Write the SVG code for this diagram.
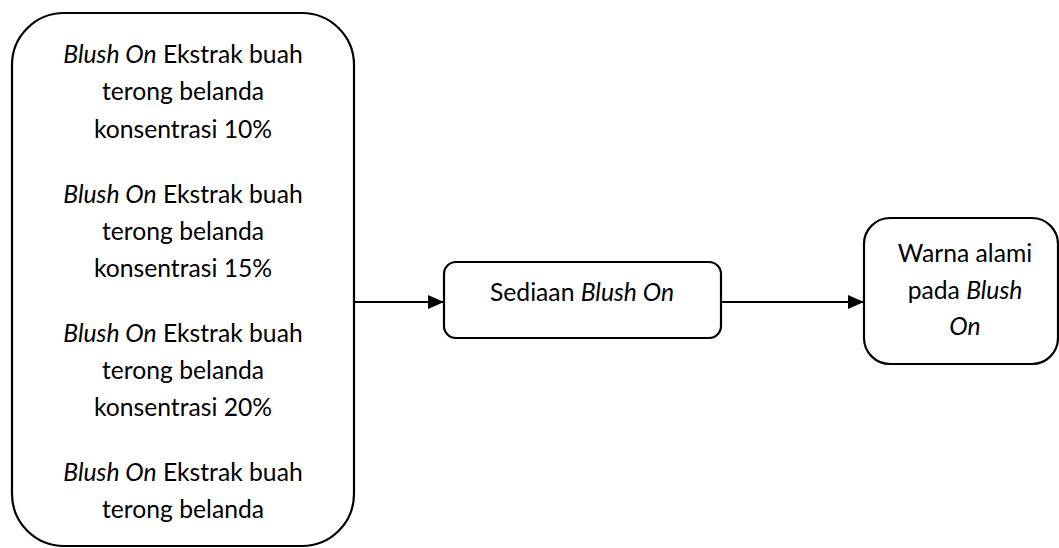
<svg xmlns="http://www.w3.org/2000/svg" width="1059" height="548" viewBox="0 0 1059 548">
<style>
.box{fill:#fff;stroke:#000;stroke-width:2.2}
.t{font-family:Lato,"Open Sans","Liberation Sans",sans-serif;font-size:24.7px;fill:#000;text-anchor:middle}
.i{font-style:italic}
.c{stroke:#000;stroke-width:2.2;fill:none}
</style>
<defs>
<marker id="arr" viewBox="0 0 16 14" refX="16" refY="7" markerWidth="16" markerHeight="14" markerUnits="userSpaceOnUse" orient="auto">
<path d="M0,0 L16,7 L0,14 Z" fill="#000"/>
</marker>
</defs>
<rect width="1059" height="548" fill="#fff"/>
<g id="connectors">
<line class="c" x1="354" y1="302" x2="444" y2="302" marker-end="url(#arr)"/>
<line class="c" x1="721" y1="302" x2="864" y2="302" marker-end="url(#arr)"/>
</g>
<g id="node-samples">
<rect class="box" x="12" y="13" width="342" height="533" rx="52" ry="52"/>
<text class="t" x="183" y="63"><tspan class="i">Blush On</tspan> Ekstrak buah</text>
<text class="t" x="183" y="100">terong belanda</text>
<text class="t" x="183" y="138">konsentrasi 10%</text>
<text class="t" x="183" y="203"><tspan class="i">Blush On</tspan> Ekstrak buah</text>
<text class="t" x="183" y="240">terong belanda</text>
<text class="t" x="183" y="277">konsentrasi 15%</text>
<text class="t" x="183" y="342"><tspan class="i">Blush On</tspan> Ekstrak buah</text>
<text class="t" x="183" y="379">terong belanda</text>
<text class="t" x="183" y="416">konsentrasi 20%</text>
<text class="t" x="183" y="481"><tspan class="i">Blush On</tspan> Ekstrak buah</text>
<text class="t" x="183" y="518">terong belanda</text>
</g>
<g id="node-sediaan">
<rect class="box" x="444" y="262" width="277" height="76" rx="12" ry="12"/>
<text class="t" x="582" y="301">Sediaan <tspan class="i">Blush On</tspan></text>
</g>
<g id="node-warna">
<rect class="box" x="864" y="218" width="194" height="146" rx="26" ry="26"/>
<text class="t" x="965" y="262">Warna alami</text>
<text class="t" x="965" y="299">pada <tspan class="i">Blush</tspan></text>
<text class="t" x="965" y="335"><tspan class="i">On</tspan></text>
</g>
</svg>
